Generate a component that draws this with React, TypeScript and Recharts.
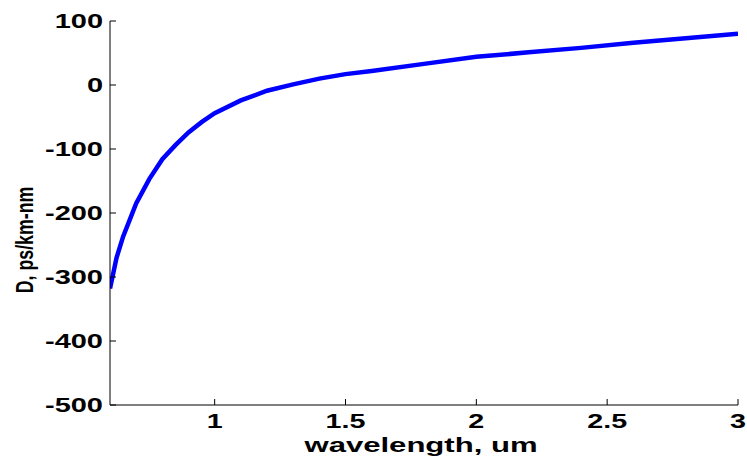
import React from 'react';
import { LineChart, Line, XAxis, YAxis } from 'recharts';

// wavelength (um) and dispersion D (ps/km-nm)
const wavelength = [0.6, 0.625, 0.65, 0.7, 0.75, 0.8, 0.85, 0.9, 0.95, 1.0, 1.1, 1.2, 1.3, 1.4, 1.5, 1.6, 1.8, 2.0, 2.2, 2.4, 2.6, 2.8, 3.0];
const dispersion = [-318, -270, -237, -185, -147, -116, -94, -74, -58, -44, -24, -9, 1, 10, 17, 22, 33, 44, 51, 58, 66, 73, 80];

const xTicks = [1, 1.5, 2, 2.5, 3];
const yTicks = [-500, -400, -300, -200, -100, 0, 100];

const data = wavelength.map((w, i) => ({ w, d: dispersion[i] }));

const font = '"Liberation Sans", Arial, Helvetica, sans-serif';

const YTick = (props: any) => {
  const { x, y, payload } = props;
  return (
    <g>
      <line x1={x} x2={x + 6} y1={y} y2={y} stroke="#000" strokeWidth={1} />
      <text
        transform={`translate(${x - 7},${y + 7}) scale(1.45,1)`}
        textAnchor="end"
        fontSize={20}
        fontWeight="bold"
        fontFamily={font}
        fill="#000"
      >
        {payload.value}
      </text>
    </g>
  );
};

const XTick = (props: any) => {
  const { x, y, payload } = props;
  return (
    <g>
      <line x1={x} x2={x} y1={y} y2={y - 6} stroke="#000" strokeWidth={1} />
      <text
        transform={`translate(${x},${y + 23}) scale(1.4,1)`}
        textAnchor="middle"
        fontSize={20.5}
        fontWeight="bold"
        fontFamily={font}
        fill="#000"
      >
        {payload.value}
      </text>
    </g>
  );
};

const TopTick = (props: any) => {
  const { x, y } = props;
  return <line x1={x} x2={x} y1={y} y2={y + 6} stroke="#000" strokeWidth={1} />;
};

const RightTick = (props: any) => {
  const { x, y } = props;
  return <line x1={x} x2={x - 6} y1={y} y2={y} stroke="#000" strokeWidth={1} />;
};

export default function App() {
  return (
    <div style={{ position: 'absolute', left: 0, top: 0, width: 747, height: 459, background: '#fff' }}>
      <LineChart width={747} height={459} data={data} margin={{ top: 21, right: 9, left: 0, bottom: 0 }}>
        <XAxis
          dataKey="w"
          type="number"
          domain={[0.6, 3]}
          ticks={xTicks}
          allowDataOverflow
          height={54}
          tickSize={0}
          tickMargin={0}
          tickLine={false}
          axisLine={{ stroke: '#000', strokeWidth: 1 }}
          tick={<XTick />}
        />
        <XAxis
          xAxisId="top"
          orientation="top"
          type="number"
          domain={[0.6, 3]}
          ticks={xTicks}
          allowDataOverflow
          height={0}
          tickSize={0}
          tickMargin={0}
          tickLine={false}
          axisLine={{ stroke: '#000', strokeWidth: 1 }}
          tick={<TopTick />}
        />
        <YAxis
          type="number"
          domain={[-500, 100]}
          ticks={yTicks}
          allowDataOverflow
          width={110}
          tickSize={0}
          tickMargin={0}
          tickLine={false}
          axisLine={{ stroke: '#000', strokeWidth: 1 }}
          tick={<YTick />}
        />
        <YAxis
          yAxisId="right"
          orientation="right"
          type="number"
          domain={[-500, 100]}
          ticks={yTicks}
          allowDataOverflow
          width={0}
          tickSize={0}
          tickMargin={0}
          tickLine={false}
          axisLine={{ stroke: '#000', strokeWidth: 1 }}
          tick={<RightTick />}
        />
        <Line
          type="linear"
          dataKey="d"
          stroke="#0000ff"
          strokeWidth={4.5}
          dot={false}
          activeDot={false}
          isAnimationActive={false}
        />
        <text
          transform="translate(421,452) scale(1.48,1)"
          textAnchor="middle"
          fontSize={21}
          fontWeight="bold"
          fontFamily={font}
          fill="#000"
        >
          wavelength, um
        </text>
        <text
          transform="translate(33,240) rotate(-90) scale(0.74,1)"
          textAnchor="middle"
          fontSize={24}
          fontWeight="bold"
          fontFamily={font}
          fill="#000"
        >
          D, ps/km-nm
        </text>
      </LineChart>
    </div>
  );
}
